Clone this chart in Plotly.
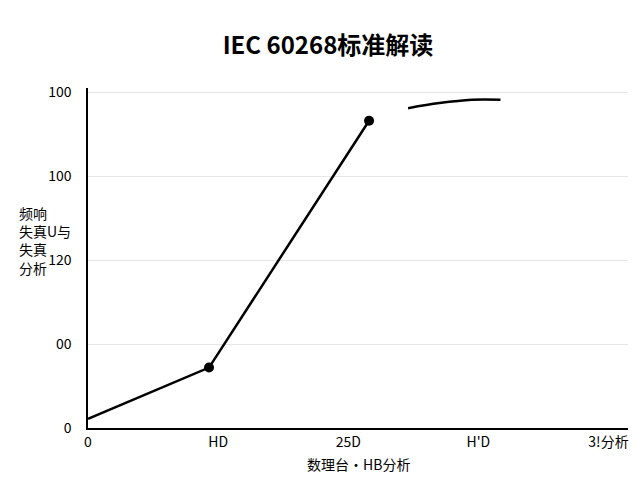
import plotly.graph_objs as go

main_x = [0, 0.93, 2.16]
main_y = [0.11, 0.72, 3.66]
arc_x = [2.46, 2.7, 2.95, 3.17]
arc_y = [3.81, 3.87, 3.91, 3.91]
x_ticks = ["0", "HD", "25D", "H'D", "3!分析"]
y_ticks = ["0", "00", "120", "100", "100"]

font = "Noto Sans CJK SC"
fig = go.Figure()
fig.add_trace(go.Scatter(x=main_x, y=main_y, mode="lines", line=dict(color="black", width=2.5)))
fig.add_trace(go.Scatter(x=main_x[1:], y=main_y[1:], mode="markers", marker=dict(color="black", size=10)))
fig.add_trace(go.Scatter(x=arc_x, y=arc_y, mode="lines", line=dict(color="black", width=2.5, shape="spline")))

fig.update_layout(
    width=640, height=480, showlegend=False,
    plot_bgcolor="white", paper_bgcolor="white",
    margin=dict(l=80, r=20, t=80, b=60),
    font=dict(family=font, color="black", size=14),
    title=dict(text="<b>IEC 60268标准解读</b>", x=0.5, y=0.94, xanchor="center", font=dict(size=24)),
    xaxis=dict(range=[0, 4.15], tickvals=list(range(5)), ticktext=x_ticks, showgrid=False,
               showline=True, linecolor="black", linewidth=1.5, zeroline=False, ticks="",
               automargin=False),
    yaxis=dict(range=[0, 4.05], tickvals=list(range(5)), ticktext=y_ticks, gridcolor="#e6e6e6",
               showline=True, linecolor="black", linewidth=1.5, zeroline=False, ticks="", ticklabelstandoff=12,
               automargin=False),
)
fig.add_annotation(text="数理台·HB分析", x=0.5, y=-0.07, xref="paper", yref="paper",
                   showarrow=False, xanchor="center", yanchor="top", font=dict(size=14))
fig.add_annotation(text="频响<br>失真U与<br>失真<br>分析", x=-0.08, y=0.55, xref="paper", yref="paper",
                   showarrow=False, xanchor="center", align="left", font=dict(size=14))
fig.write_html("out.html")
